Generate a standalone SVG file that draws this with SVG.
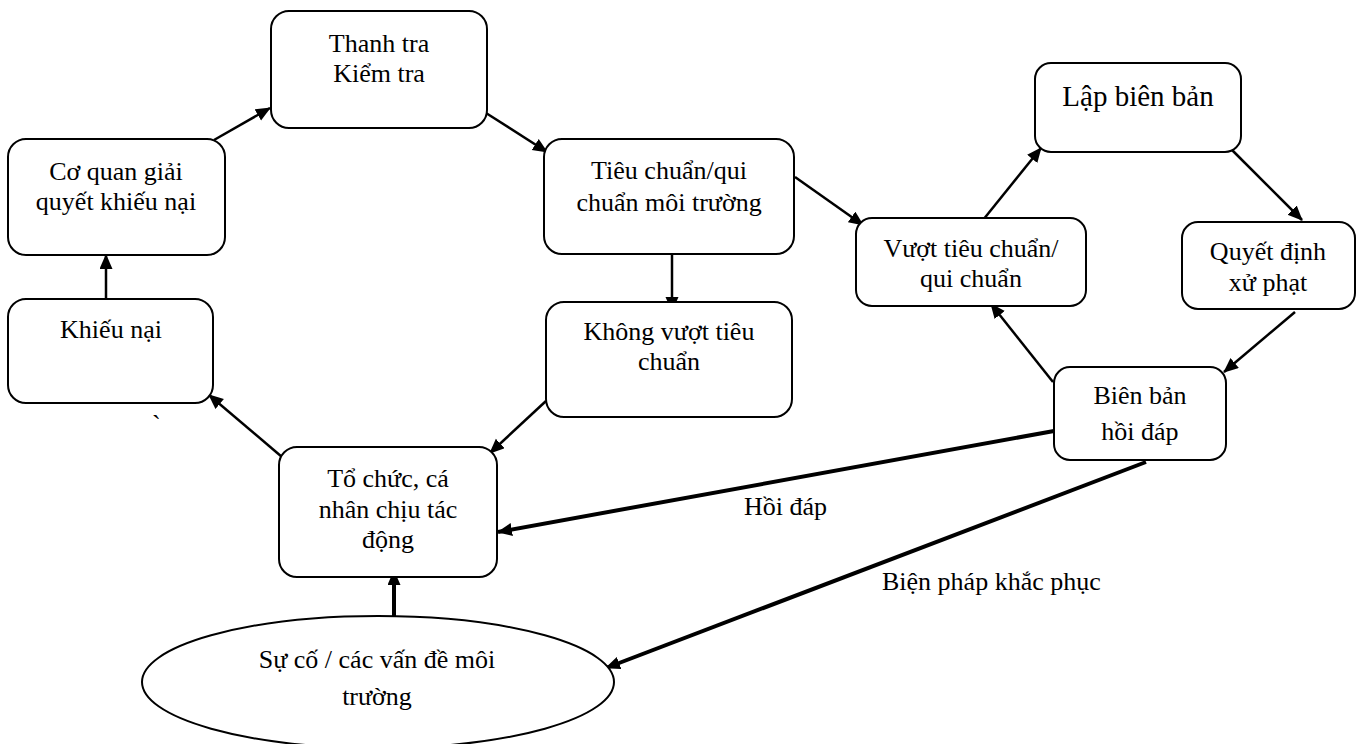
<svg xmlns="http://www.w3.org/2000/svg" width="1364" height="744" viewBox="0 0 1364 744">
<style>
.box{fill:#fff;stroke:#000;stroke-width:2}
.t{font-family:"Liberation Serif","Times New Roman",serif;font-size:26px;fill:#000;text-anchor:middle}
.lbl{font-family:"Liberation Serif","Times New Roman",serif;font-size:26px;fill:#000}
.c{stroke:#000;stroke-width:2.5;fill:none;marker-end:url(#ah)}
.ct{stroke:#000;stroke-width:4;fill:none;marker-end:url(#ah)}
</style>
<defs>
<marker id="ah" markerUnits="userSpaceOnUse" markerWidth="16" markerHeight="14" refX="14" refY="6.5" orient="auto">
<path d="M0,0 L15,6.5 L0,13 z" fill="#000"/>
</marker>
</defs>
<rect width="1364" height="744" fill="#fff"/>
<g id="connectors">
<line class="c" x1="214" y1="140" x2="270" y2="108"/>
<line class="c" x1="486" y1="113" x2="547" y2="152"/>
<line class="c" x1="672" y1="250" x2="672" y2="311"/>
<line class="c" x1="795" y1="177" x2="863" y2="225"/>
<line class="c" x1="983" y1="220" x2="1041" y2="148"/>
<line class="c" x1="1230" y1="148" x2="1302" y2="220"/>
<line class="c" x1="1295" y1="312" x2="1224" y2="372"/>
<line class="c" x1="1053" y1="382" x2="991" y2="304"/>
<line class="ct" x1="1054" y1="431" x2="498" y2="532"/>
<line class="ct" x1="1146" y1="462" x2="606" y2="668"/>
<line class="ct" x1="394" y1="616" x2="394" y2="571"/>
<line class="c" x1="546" y1="401" x2="490" y2="453"/>
<line class="c" x1="282" y1="457" x2="209" y2="395"/>
<line class="c" x1="106" y1="299" x2="106" y2="255"/>
<text class="lbl" x="744" y="515">Hồi đáp</text>
<text class="lbl" x="882" y="590">Biện pháp khắc phục</text>
</g>
<g id="n-thanhtra">
<rect class="box" x="271" y="11" width="216" height="117" rx="18"/>
<text class="t" x="379" y="52">Thanh tra</text>
<text class="t" x="379" y="82">Kiểm tra</text>
</g>
<g id="n-coquan">
<rect class="box" x="8" y="139" width="217" height="116" rx="18"/>
<text class="t" x="116" y="180">Cơ quan giải</text>
<text class="t" x="116" y="210">quyết khiếu nại</text>
</g>
<g id="n-khieunai">
<rect class="box" x="8" y="299" width="205" height="104" rx="18"/>
<text class="t" x="111" y="338">Khiếu nại</text>
</g>
<text class="lbl" x="152" y="433">`</text>
<g id="n-tieuchuan">
<rect class="box" x="544" y="139" width="250" height="115" rx="18"/>
<text class="t" x="669" y="179">Tiêu chuẩn/qui</text>
<text class="t" x="669" y="211">chuẩn môi trường</text>
</g>
<g id="n-khongvuot">
<rect class="box" x="546" y="302" width="246" height="115" rx="18"/>
<text class="t" x="669" y="340">Không vượt tiêu</text>
<text class="t" x="669" y="370">chuẩn</text>
</g>
<g id="n-tochuc">
<rect class="box" x="279" y="447" width="218" height="130" rx="18"/>
<text class="t" x="388" y="487">Tổ chức, cá</text>
<text class="t" x="388" y="518">nhân chịu tác</text>
<text class="t" x="388" y="548">động</text>
</g>
<g id="n-suco">
<ellipse class="box" cx="378" cy="682" rx="236" ry="66"/>
<text class="t" x="377" y="668">Sự cố / các vấn đề môi</text>
<text class="t" x="377" y="705">trường</text>
</g>
<g id="n-lapbienban">
<rect class="box" x="1035" y="63" width="206" height="89" rx="16"/>
<text class="t" x="1138" y="106" style="font-size:29px">Lập biên bản</text>
</g>
<g id="n-vuot">
<rect class="box" x="856" y="218" width="230" height="88" rx="16"/>
<text class="t" x="971" y="257">Vượt tiêu chuẩn/</text>
<text class="t" x="971" y="287">qui chuẩn</text>
</g>
<g id="n-quyetdinh">
<rect class="box" x="1182" y="222" width="173" height="87" rx="16"/>
<text class="t" x="1268" y="260">Quyết định</text>
<text class="t" x="1268" y="291">xử phạt</text>
</g>
<g id="n-bienban">
<rect class="box" x="1054" y="367" width="172" height="93" rx="16"/>
<text class="t" x="1140" y="404">Biên bản</text>
<text class="t" x="1140" y="440">hồi đáp</text>
</g>
</svg>
